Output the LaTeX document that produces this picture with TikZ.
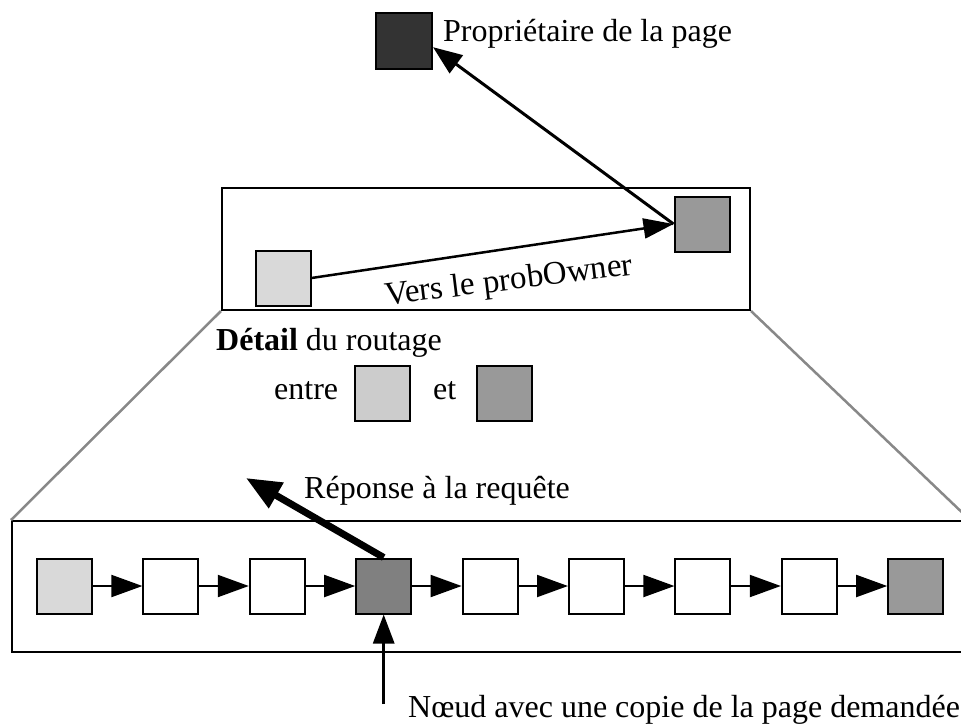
\documentclass[tikz,border=0pt]{standalone}
\usepackage{fontspec}
\setmainfont{Liberation Serif}
\usetikzlibrary{arrows.meta,positioning}
\definecolor{ownerfill}{HTML}{333333}
\definecolor{srcfill}{HTML}{D9D9D9}
\definecolor{entrefill}{HTML}{CCCCCC}
\definecolor{probfill}{HTML}{999999}
\definecolor{copyfill}{HTML}{808080}
\definecolor{zoomline}{HTML}{888888}
\begin{document}
\begin{tikzpicture}[
  x=1pt, y=-1pt,
  sq/.style={draw, line width=2pt, minimum size=55pt, inner sep=0pt},
  frame/.style={draw, line width=2pt, inner sep=0pt},
  lbl/.style={font=\fontsize{32}{38}\selectfont, inner sep=0pt},
  hop/.style={line width=2pt, -{Triangle[length=31pt,width=22pt]}},
  node distance=106.4pt
]
\useasboundingbox (0,0) rectangle (961,724);
\node[frame, minimum width=528pt, minimum height=122pt] (upper) at (486,249) {};
\node[frame, minimum width=957pt, minimum height=131pt] (lower) at (490.5,586.5) {};
\draw[zoomline, line width=2.5pt] (upper.south west) -- (lower.north west);
\draw[zoomline, line width=2.5pt] (upper.south east) -- (lower.north east);
\node[sq, minimum size=56pt, fill=ownerfill] (owner) at (404,41) {};
\node[lbl, anchor=base west] (ownerlbl) at (443,41) {Propriétaire de la page};
\node[sq, fill=srcfill] (src) at (283,278) {};
\node[sq, fill=probfill] (prob) at (702,224) {};
\draw[line width=2.5pt, -{Triangle[length=30pt,width=20pt]}] (src.east) -- (prob.west);
\node[lbl, font=\fontsize{33}{40}\selectfont, rotate=7, anchor=base] (verslbl) at (510,290) {Vers le probOwner};
\draw[line width=3pt, -{Triangle[length=29pt,width=22pt]}] (prob.west) -- (owner.-12);
\node[lbl, anchor=base west] (detail) at (216,350) {\textbf{Détail} du routage};
\node[lbl, anchor=base west] (entre) at (274,399) {entre};
\node[sq, fill=entrefill] (entresq) at (382,393.5) {};
\node[lbl, anchor=base west] (et) at (433,399) {et};
\node[sq, fill=probfill] (etsq) at (504.5,393.5) {};
\node[lbl, anchor=base west] (reponse) at (304,498) {Réponse à la requête};
\node[sq, fill=srcfill] (c1) at (64.5,586) {};
\node[sq, right of=c1] (c2) {};
\node[sq, right of=c2] (c3) {};
\node[sq, fill=copyfill, right of=c3] (c4) {};
\node[sq, right of=c4] (c5) {};
\node[sq, right of=c5] (c6) {};
\node[sq, right of=c6] (c7) {};
\node[sq, right of=c7] (c8) {};
\node[sq, fill=probfill, right of=c8] (c9) {};
\draw[hop] (c1) -- (c2);
\draw[hop] (c2) -- (c3);
\draw[hop] (c3) -- (c4);
\draw[hop] (c4) -- (c5);
\draw[hop] (c5) -- (c6);
\draw[hop] (c6) -- (c7);
\draw[hop] (c7) -- (c8);
\draw[hop] (c8) -- (c9);
\coordinate (reptip) at (246,478);
\draw[line width=7pt, -{Triangle[length=35pt,width=28pt]}] (c4.north) -- (reptip);
\coordinate (copyfoot) at (c4.south |- 0,704);
\draw[line width=3pt, -{Triangle[length=29pt,width=21pt]}] (copyfoot) -- (c4.south);
\node[lbl, anchor=base west] (copylbl) at (408,717) {Nœud avec une copie de la page demandée};
\end{tikzpicture}
\end{document}
